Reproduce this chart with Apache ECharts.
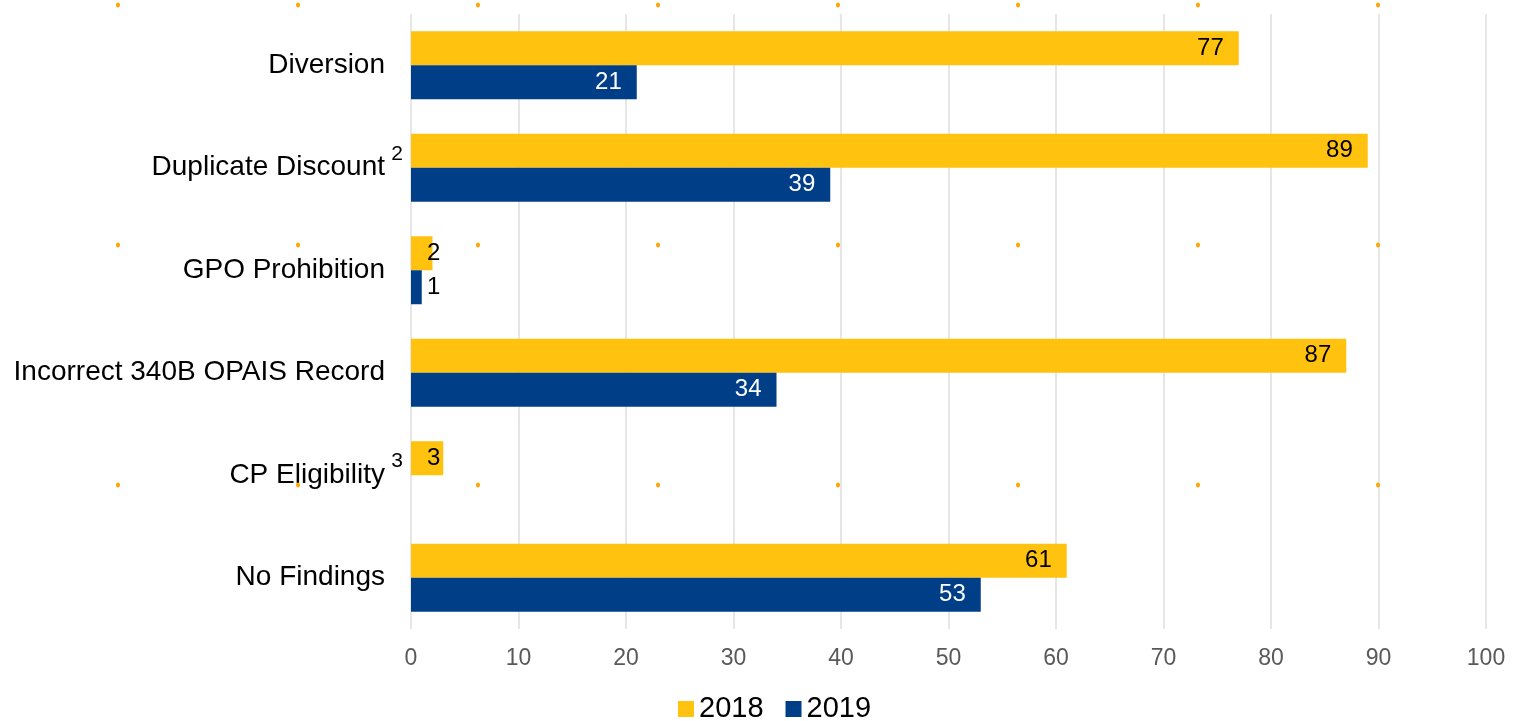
<!DOCTYPE html>
<html>
<head>
<meta charset="utf-8">
<title>Findings 2018 vs 2019</title>
<script src="https://cdn.jsdelivr.net/npm/echarts@6/dist/echarts.min.js"></script>
<style>
  html, body { margin: 0; padding: 0; background: #fff; }
  #chart { width: 1516px; height: 721px; }
</style>
</head>
<body>
<div id="chart"></div>
<script>
// data
var categories = ['Diversion', 'Duplicate Discount', 'GPO Prohibition', 'Incorrect 340B OPAIS Record', 'CP Eligibility', 'No Findings'];
var footnotes = ['', '2', '', '', '3', ''];
var years = ['2018', '2019'];
var values2018 = [77, 89, 2, 87, 3, 61];
var values2019 = [21, 39, 1, 34, null, 53];
var xTicks = [0, 10, 20, 30, 40, 50, 60, 70, 80, 90, 100];

var yellow = '#FFC20E';
var blue = '#003F87';

// small values get their label parked just right of the axis
function toItems(values, insideColor){
  return values.map(function(v){
    if (v == null) return '-';
    if (v < 5) {
      return {value: v, label: {position: 'insideLeft', distance: 16, color: '#000'}};
    }
    return {value: v, label: {color: insideColor}};
  });
}

// the little orange dots scattered over the original
var dots = [];
[5, 245, 485].forEach(function(y){
  for (var i = 0; i < 8; i++) {
    dots.push({type: 'ellipse', shape: {cx: 118 + i * 180, cy: y, rx: 2, ry: 2.5},
      style: {fill: '#FFA500'}, z: 100, silent: true});
  }
});

var myChart = echarts.init(document.getElementById('chart'));
var option = {
  backgroundColor: '#fff',
  textStyle: {fontFamily: 'Liberation Sans, Arial, sans-serif'},
  animation: false,
  grid: {left: 411, right: 30, top: 14, bottom: 92, containLabel: false},
  legend: {
    data: years,
    top: 689,
    left: 673,
    itemWidth: 16,
    itemHeight: 16,
    itemGap: 22,
    icon: 'rect',
    textStyle: {fontSize: 29, lineHeight: 30, color: '#000'}
  },
  xAxis: {
    type: 'value',
    min: xTicks[0],
    max: xTicks[xTicks.length - 1],
    interval: 10,
    axisLine: {show: false},
    axisTick: {show: false},
    splitLine: {lineStyle: {color: '#E6E6E6', width: 2}},
    axisLabel: {fontSize: 23, color: '#595959', margin: 18}
  },
  yAxis: {
    type: 'category',
    inverse: true,
    data: categories,
    axisLine: {show: false},
    axisTick: {show: false},
    axisLabel: {
      margin: 8,
      formatter: function(val, idx){
        // every label carries a footnote slot so the plain ones line up at the same edge
        var note = footnotes[idx] || ' ';
        return '{a|' + val + '}{s|' + note + '}';
      },
      rich: {
        a: {fontSize: 28, color: '#000'},
        s: {fontSize: 21, color: '#000', width: 18, align: 'right', padding: [0, 0, 28, 0]}
      }
    }
  },
  series: [
    {
      name: years[0],
      type: 'bar',
      barWidth: 34,
      barGap: '0%',
      itemStyle: {color: yellow},
      label: {show: true, position: 'insideRight', distance: 15, fontSize: 24, color: '#000'},
      data: toItems(values2018, '#000')
    },
    {
      name: years[1],
      type: 'bar',
      barWidth: 34,
      barGap: '0%',
      itemStyle: {color: blue},
      label: {show: true, position: 'insideRight', distance: 15, fontSize: 24, color: '#fff'},
      data: toItems(values2019, '#fff')
    }
  ],
  graphic: dots
};
myChart.setOption(option);
</script>
</body>
</html>
